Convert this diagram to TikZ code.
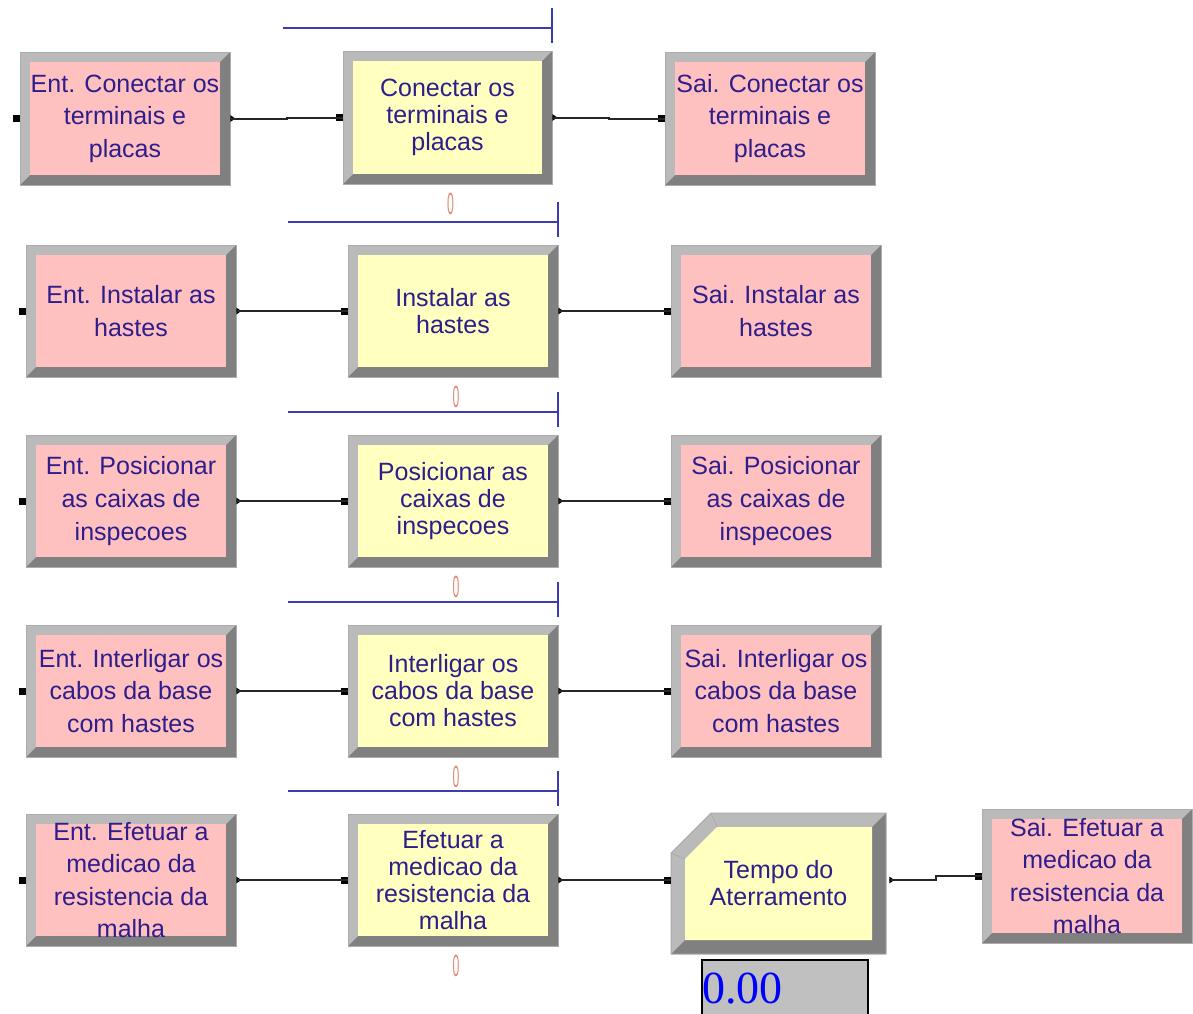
\documentclass[tikz,border=0pt]{standalone}
\usepackage{fontspec}
\usepackage{graphicx}
\setmainfont{Liberation Sans}
\newfontfamily\dispfont{Liberation Serif}
\usetikzlibrary{calc}

\definecolor{pinkfill}{RGB}{255,192,192}
\definecolor{yellowfill}{RGB}{255,255,192}
\definecolor{bevlight}{RGB}{186,186,186}
\definecolor{bevdark}{RGB}{128,128,128}
\definecolor{rimgray}{RGB}{172,172,172}
\definecolor{modtext}{RGB}{45,30,140}
\definecolor{queueblue}{RGB}{60,60,178}
\definecolor{countcol}{RGB}{222,140,120}
\definecolor{dispgray}{RGB}{192,192,192}
\definecolor{dispblue}{RGB}{0,0,255}

\tikzset{
  rim/.style={draw=rimgray, line width=0.75pt},
  modlabel/.style={inner sep=0pt, align=center, text=modtext},
  conn/.style={draw=black!85, line width=1.5pt},
  queue/.style={draw=queueblue, line width=1.5pt},
  counter/.style={inner sep=0pt, text=countcol, font=\fontsize{23}{23}\selectfont},
  dispbox/.style={draw=black, line width=1.2pt, fill=dispgray, inner sep=0pt},
  disptext/.style={inner sep=0pt, text=dispblue, font=\dispfont\fontsize{34.5}{34.5}\selectfont},
}

% bevel width of a module frame (px)
\newcommand\bw{10}

% bevelled module: name, left, top, right, bottom, fill, line spacing (pt), text
\newcommand\armmodule[8]{%
  \fill[bevlight] (#2,#3) -- (#4,#3) -- (#4-\bw,#3+\bw) -- (#2+\bw,#3+\bw) -- (#2+\bw,#5-\bw) -- (#2,#5) -- cycle;
  \fill[bevdark] (#4,#3) -- (#4,#5) -- (#2,#5) -- (#2+\bw,#5-\bw) -- (#4-\bw,#5-\bw) -- (#4-\bw,#3+\bw) -- cycle;
  \fill[#6] (#2+\bw,#3+\bw) rectangle (#4-\bw,#5-\bw);
  \draw[rim] (#2,#3) rectangle (#4,#5);
  \node[modlabel, minimum width={(#4-#2)*0.75pt}, minimum height={(#5-#3)*0.75pt},
        font=\fontsize{18.75}{#7}\selectfont] (#1) at ({(#2+#4)/2},{(#3+#5)/2}) {#8};
  \inport{#1.west}
}

% entry point (small square) and exit point (small triangle)
\newcommand\inport[1]{%
  \fill ($(#1)+(-7,-3.5)$) rectangle ($(#1)+(0,3.5)$);}
\newcommand\outport[1]{%
  \fill ($(#1)+(0,-3.5)$) -- ($(#1)+(5,0)$) -- ($(#1)+(0,3.5)$) -- cycle;}

% connector with a step half way: from, to, name of the step point
\newcommand\link[3]{%
  \coordinate (#3) at ($(#1)!0.5!(#2)$);
  \draw[conn] (#1) -| (#3) |- (#2);}

% queue symbol above a process module
\newcommand\queueline[1]{%
  \draw[queue] ($(#1.north west)+(-60,-23)$) -- ($(#1.north east)+(0,-23)$);
  \draw[queue] ($(#1.north east)+(0,-43)$) -- ($(#1.north east)+(0,-8)$);}

\begin{document}
\begin{tikzpicture}[x=0.75pt, y=-0.75pt]
\useasboundingbox (0,0) rectangle (1193,1014);
\clip (0,0) rectangle (1193,1014);
\fill[white] (0,0) rectangle (1193,1014);

% row 1
\armmodule{a1}{20}{52}{230}{185}{pinkfill}{24.4}{Ent. Conectar os\\terminais e\\placas}
\armmodule{b1}{343}{51}{552}{184}{yellowfill}{20.25}{Conectar os\\terminais e\\placas}
\armmodule{c1}{665}{52}{875}{185}{pinkfill}{24.4}{Sai. Conectar os\\terminais e\\placas}

% row 2
\armmodule{a2}{26}{245}{236}{377}{pinkfill}{24.4}{Ent. Instalar as\\hastes}
\armmodule{b2}{348}{245}{558}{377}{yellowfill}{20.25}{Instalar as\\hastes}
\armmodule{c2}{671}{245}{881}{377}{pinkfill}{24.4}{Sai. Instalar as\\hastes}

% row 3
\armmodule{a3}{26}{435}{236}{567}{pinkfill}{24.4}{Ent. Posicionar\\as caixas de\\inspecoes}
\armmodule{b3}{348}{435}{558}{567}{yellowfill}{20.25}{Posicionar as\\caixas de\\inspecoes}
\armmodule{c3}{671}{435}{881}{567}{pinkfill}{24.4}{Sai. Posicionar\\as caixas de\\inspecoes}

% row 4
\armmodule{a4}{26}{625}{236}{757}{pinkfill}{24.4}{Ent. Interligar os\\cabos da base\\com hastes}
\armmodule{b4}{348}{625}{558}{757}{yellowfill}{20.25}{Interligar os\\cabos da base\\com hastes}
\armmodule{c4}{671}{625}{881}{757}{pinkfill}{24.4}{Sai. Interligar os\\cabos da base\\com hastes}

% row 5
\armmodule{a5}{26}{814}{236}{946}{pinkfill}{24.4}{Ent. Efetuar a\\medicao da\\resistencia da\\malha}
\armmodule{b5}{348}{814}{558}{946}{yellowfill}{20.25}{Efetuar a\\medicao da\\resistencia da\\malha}
\armmodule{s5}{982}{809}{1192}{943}{pinkfill}{24.4}{Sai. Efetuar a\\medicao da\\resistencia da\\malha}

% record module with the cut corner
\fill[bevlight] (671,954) -- (671,853) -- (711,813) -- (886,813) -- (872,827) -- (717,827) -- (685,859) -- (685,940) -- cycle;
\fill[bevdark] (886,813) -- (886,954) -- (671,954) -- (685,940) -- (872,940) -- (872,827) -- cycle;
\fill[yellowfill] (685,859) -- (717,827) -- (872,827) -- (872,940) -- (685,940) -- cycle;
\draw[rim] (671,853) -- (711,813) -- (886,813) -- (886,954) -- (671,954) -- cycle;
\draw[draw=rimgray, line width=0.6pt] (711,813) -- (717,827) (671,853) -- (685,859);
\node[modlabel, minimum width={215*0.75pt}, minimum height={141*0.75pt},
      font=\fontsize{18.75}{20.25}\selectfont] (t) at (778.5,883) {Tempo do\\Aterramento};
\coordinate (t-in) at (b5.east -| t.west);
\coordinate (t-out) at ($(b5.east -| t.east)+(3,0)$);
\inport{t-in}

% exits
\foreach \m in {a1,b1,a2,b2,a3,b3,a4,b4,a5,b5} {\outport{\m.east}}
\outport{t-out}

% connectors
\link{a1.east}{b1.west}{m-a1} \link{b1.east}{c1.west}{m-b1}
\link{a2.east}{b2.west}{m-a2} \link{b2.east}{c2.west}{m-b2}
\link{a3.east}{b3.west}{m-a3} \link{b3.east}{c3.west}{m-b3}
\link{a4.east}{b4.west}{m-a4} \link{b4.east}{c4.west}{m-b4}
\link{a5.east}{b5.west}{m-a5}
\draw[conn] (b5.east) -- (t-in);
\link{t-out}{s5.west}{m-t}

% queues and counters of the process modules
\foreach \m/\k in {b1/1,b2/2,b3/3,b4/4,b5/5} {
  \queueline{\m}
  \node[counter] (n\k) at ($(\m.south)+(3,20)$) {\scalebox{0.4}[1]{0}};
}

% time display
\node[dispbox, anchor=north west, minimum width={166*0.75pt}, minimum height={80*0.75pt}] (disp) at (701,959) {};
\node[disptext, anchor=base west] (dispval) at (702,1003) {0.00};
\end{tikzpicture}
\end{document}
